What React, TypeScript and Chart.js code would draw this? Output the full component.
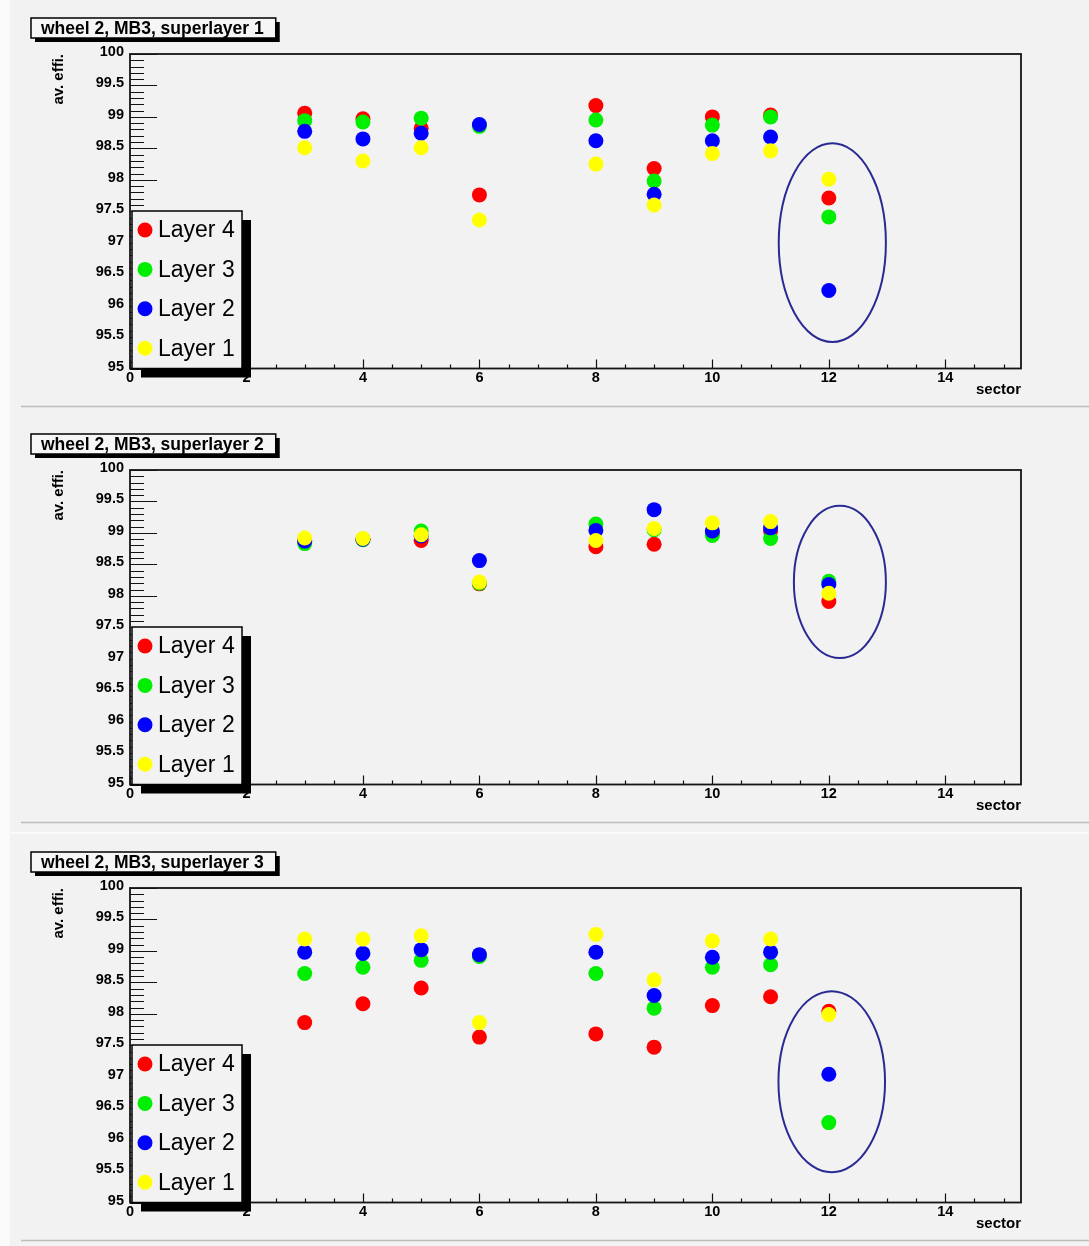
import { useEffect, useRef } from 'react';
import { Chart, registerables } from 'chart.js';

Chart.register(...registerables);

const FONT = "'Liberation Sans', Arial, Helvetica, sans-serif";
const PANEL_BG = '#f2f2f2';

// sectors that have measurements
const sectors = [3, 4, 5, 6, 8, 9, 10, 11, 12];

// dataset order: Layer 1 first so it is painted last (on top)
const layerLabels = ['Layer 1', 'Layer 2', 'Layer 3', 'Layer 4'];
const layerColors = ['#ffff00', '#0000ff', '#00ee00', '#ff0000'];

// superlayer 1: average efficiency (%) per sector
const sl1Layer1 = [98.51, 98.3, 98.51, 97.36, 98.25, 97.6, 98.42, 98.46, 98.01];
const sl1Layer2 = [98.77, 98.65, 98.74, 98.88, 98.62, 97.77, 98.62, 98.68, 96.24];
const sl1Layer3 = [98.94, 98.92, 98.98, 98.85, 98.95, 97.98, 98.87, 99.0, 97.41];
const sl1Layer4 = [99.06, 98.97, 98.82, 97.76, 99.18, 98.18, 99.0, 99.03, 97.71];

// superlayer 2
const sl2Layer1 = [98.92, 98.91, 98.97, 98.22, 98.88, 99.07, 99.16, 99.18, 98.04];
const sl2Layer2 = [98.87, 98.9, 98.95, 98.56, 99.04, 99.37, 99.03, 99.08, 98.18];
const sl2Layer3 = [98.83, 98.89, 99.03, 98.2, 99.14, 99.05, 98.96, 98.91, 98.23];
const sl2Layer4 = [98.87, 98.9, 98.88, 98.19, 98.78, 98.82, 99.0, 99.03, 97.91];

// superlayer 3
const sl3Layer1 = [99.19, 99.19, 99.24, 97.86, 99.26, 98.54, 99.16, 99.19, 97.99];
const sl3Layer2 = [98.98, 98.96, 99.02, 98.94, 98.98, 98.29, 98.9, 98.98, 97.04];
const sl3Layer3 = [98.64, 98.74, 98.85, 98.91, 98.64, 98.09, 98.74, 98.78, 96.27];
const sl3Layer4 = [97.86, 98.16, 98.41, 97.63, 97.68, 97.47, 98.13, 98.27, 98.04];

const xTickValues = [0, 2, 4, 6, 8, 10, 12, 14];
const yTickValues = [95, 95.5, 96, 96.5, 97, 97.5, 98, 98.5, 99, 99.5, 100];

const panelTitles = [
  'wheel 2, MB3, superlayer 1',
  'wheel 2, MB3, superlayer 2',
  'wheel 2, MB3, superlayer 3',
];
const panelLayers = [
  [sl1Layer1, sl1Layer2, sl1Layer3, sl1Layer4],
  [sl2Layer1, sl2Layer2, sl2Layer3, sl2Layer4],
  [sl3Layer1, sl3Layer2, sl3Layer3, sl3Layer4],
];
// ring around sector 12: [centre sector, centre efficiency, half width, half height]
const ring1 = [12.06, 97.0, 0.92, 1.58];
const ring2 = [12.19, 98.22, 0.79, 1.21];
const ring3 = [12.05, 96.92, 0.915, 1.44];
const panelRings = [ring1, ring2, ring3];

const PANEL_TOPS = [0, 416, 834];
const CANVAS_W = 1089;
const CANVAS_H = 416;

const rootStyle = {
  id: 'rootStyle',
  beforeDraw(chart: any) {
    const { ctx, width, height } = chart;
    ctx.save();
    ctx.fillStyle = '#fafafa';
    ctx.fillRect(0, 0, width, height);
    ctx.fillStyle = PANEL_BG;
    ctx.fillRect(10, 0, width - 10, height);
    ctx.strokeStyle = '#bdbdbd';
    ctx.lineWidth = 1.5;
    ctx.beginPath();
    ctx.moveTo(21, 406.5);
    ctx.lineTo(width, 406.5);
    ctx.stroke();
    ctx.restore();
  },
  beforeDatasetsDraw(chart: any) {
    const { ctx, chartArea } = chart;
    const { left, right, top, bottom } = chartArea;
    const xs = chart.scales.x;
    const ys = chart.scales.y;
    ctx.save();
    ctx.strokeStyle = '#111';
    ctx.lineWidth = 1.2;
    // y ticks: major every 0.5, minor every 0.1, pointing into the frame
    ctx.beginPath();
    for (let i = 0; i <= 50; i++) {
      const py = Math.round(ys.getPixelForValue(95 + i * 0.1)) + 0.5;
      const len = i % 5 === 0 ? 27 : 14;
      ctx.moveTo(left, py);
      ctx.lineTo(left + len, py);
    }
    // x ticks: major every 2, minor every 0.5
    for (let i = 0; i * 0.5 <= xs.max; i++) {
      const px = Math.round(xs.getPixelForValue(i * 0.5)) + 0.5;
      const len = i % 4 === 0 ? 9 : 4;
      ctx.moveTo(px, bottom);
      ctx.lineTo(px, bottom - len);
    }
    ctx.stroke();
    // frame
    ctx.lineWidth = 1.8;
    ctx.strokeStyle = '#151515';
    ctx.strokeRect(left, top, right - left, bottom - top);
    ctx.restore();
  },
  afterDatasetsDraw(chart: any, _args: any, opts: any) {
    const { ctx } = chart;
    const xs = chart.scales.x;
    const ys = chart.scales.y;
    const [cx, cy, hw, hh] = opts.ring;
    const px = xs.getPixelForValue(cx);
    const py = ys.getPixelForValue(cy);
    const rx = xs.getPixelForValue(cx + hw) - px;
    const ry = py - ys.getPixelForValue(cy + hh);
    ctx.save();
    ctx.strokeStyle = '#2a2a94';
    ctx.lineWidth = 2;
    ctx.beginPath();
    ctx.ellipse(px, py, rx, ry, 0, 0, Math.PI * 2);
    ctx.stroke();
    ctx.restore();
  },
  afterDraw(chart: any, _args: any, opts: any) {
    const { ctx, chartArea } = chart;
    const { left, top, bottom } = chartArea;
    ctx.save();

    // legend box with drop shadow
    const bx = left + 2;
    const by = top + 157;
    const bw = 110;
    const bh = bottom - by;
    ctx.fillStyle = '#000';
    ctx.fillRect(bx + 9, by + 9, bw, bh);
    ctx.fillStyle = PANEL_BG;
    ctx.fillRect(bx, by, bw, bh);
    ctx.strokeStyle = '#000';
    ctx.lineWidth = 1.5;
    ctx.strokeRect(bx, by, bw, bh);
    const entries = [...chart.data.datasets].reverse();
    ctx.font = `23px ${FONT}`;
    ctx.textBaseline = 'middle';
    ctx.textAlign = 'left';
    entries.forEach((ds: any, i: number) => {
      const ey = by + 19 + i * 39.4;
      ctx.fillStyle = ds.backgroundColor;
      ctx.beginPath();
      ctx.arc(bx + 13, ey, 7.5, 0, Math.PI * 2);
      ctx.fill();
      ctx.fillStyle = '#000';
      ctx.fillText(ds.label, bx + 26, ey + 1);
    });

    // title box with drop shadow
    ctx.font = `bold 17.5px ${FONT}`;
    const tw = ctx.measureText(opts.title).width;
    const tx = 31;
    const ty = 18;
    const tWidth = tw + 22;
    const tHeight = 20;
    ctx.fillStyle = '#000';
    ctx.fillRect(tx + 4, ty + 4, tWidth, tHeight);
    ctx.fillStyle = '#f6f6f6';
    ctx.fillRect(tx, ty, tWidth, tHeight);
    ctx.strokeStyle = '#000';
    ctx.lineWidth = 1.5;
    ctx.strokeRect(tx, ty, tWidth, tHeight);
    ctx.fillStyle = '#000';
    ctx.textBaseline = 'middle';
    ctx.fillText(opts.title, tx + 10, ty + tHeight / 2 + 1);
    ctx.restore();
  },
};

function Panel({ index }: { index: number }) {
  const ref = useRef<HTMLCanvasElement>(null);

  useEffect(() => {
    const canvas = ref.current;
    if (!canvas) return;
    const datasets = panelLayers[index].map((values, li) => ({
      label: layerLabels[li],
      data: sectors.map((s, k) => ({ x: s, y: values[k] })),
      backgroundColor: layerColors[li],
      borderColor: layerColors[li],
      pointRadius: 7.5,
      pointBorderWidth: 0,
      showLine: false,
    }));
    const tickFont = { family: FONT, size: 14.5, weight: 'bold' as const };
    const chart = new Chart(canvas, {
      type: 'scatter',
      data: { datasets },
      plugins: [rootStyle],
      options: {
        responsive: false,
        animation: false,
        devicePixelRatio: 1,
        events: [],
        layout: { padding: { left: 50, right: 68, top: 54, bottom: 17 } },
        plugins: {
          legend: { display: false },
          tooltip: { enabled: false },
          rootStyle: { title: panelTitles[index], ring: panelRings[index] },
        } as any,
        scales: {
          x: {
            type: 'linear',
            position: 'bottom',
            min: 0,
            max: 15.3,
            afterBuildTicks: (s: any) => {
              s.ticks = xTickValues.map((value) => ({ value }));
            },
            afterFit: (s: any) => {
              s.height = 30.5;
            },
            grid: { display: false, drawTicks: false },
            border: { display: false },
            ticks: {
              autoSkip: false,
              maxRotation: 0,
              padding: 1,
              color: '#000',
              font: tickFont,
              callback: (v: any) => String(v),
            },
            title: {
              display: true,
              text: 'sector',
              align: 'end',
              color: '#000',
              padding: { top: 0, bottom: 0 },
              font: { family: FONT, size: 15, weight: 'bold' },
            },
          },
          y: {
            type: 'linear',
            position: 'left',
            min: 95,
            max: 100,
            afterBuildTicks: (s: any) => {
              s.ticks = yTickValues.map((value) => ({ value }));
            },
            afterFit: (s: any) => {
              s.width = 80;
            },
            grid: { display: false, drawTicks: false },
            border: { display: false },
            ticks: {
              autoSkip: false,
              padding: 6,
              labelOffset: -2,
              color: '#000',
              font: tickFont,
              callback: (v: any) => String(v),
            },
            title: {
              display: true,
              text: 'av. effi.',
              align: 'end',
              color: '#000',
              padding: 0,
              font: { family: FONT, size: 15, weight: 'bold' },
            },
          },
        },
      } as any,
    });
    return () => chart.destroy();
  }, [index]);

  return (
    <canvas
      ref={ref}
      width={CANVAS_W}
      height={CANVAS_H}
      style={{ position: 'absolute', left: 0, top: PANEL_TOPS[index], display: 'block' }}
    />
  );
}

export default function App() {
  return (
    <div
      style={{
        position: 'absolute',
        left: 0,
        top: 0,
        width: 1089,
        height: 1246,
        overflow: 'hidden',
        background: '#fafafa',
      }}
    >
      {panelTitles.map((_, i) => (
        <Panel key={i} index={i} />
      ))}
    </div>
  );
}
